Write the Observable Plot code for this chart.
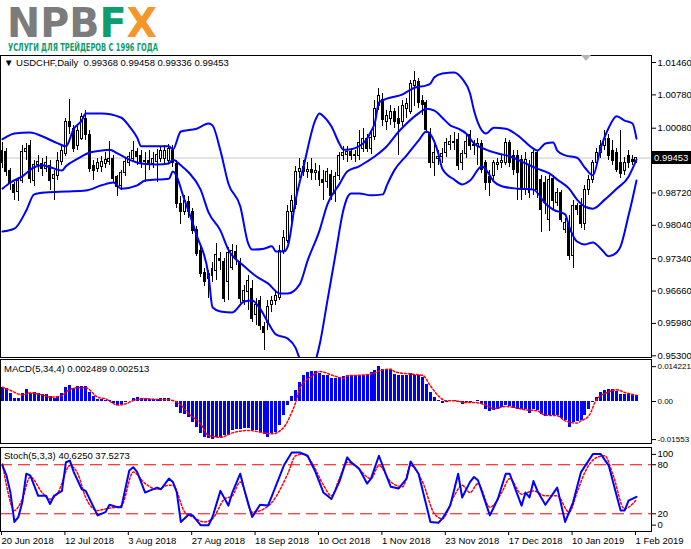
<!DOCTYPE html>
<html><head><meta charset="utf-8">
<script src="https://cdn.jsdelivr.net/npm/d3@7"></script>
<script src="https://cdn.jsdelivr.net/npm/@observablehq/plot@0.6"></script>
<style>
body{margin:0;background:#fff;}
#wrap{position:relative;width:691px;height:549px;overflow:hidden;font-family:"Liberation Sans",Arial,sans-serif;background:#fff;}
#wrap svg.p{position:absolute;left:0;}
.lbl{position:absolute;font-size:9.5px;line-height:11px;color:#000;white-space:pre;font-family:"Liberation Sans",Arial,sans-serif;}
</style></head><body><div id="wrap"></div>
<script>
// ---------- data ----------
const symbolTitle = "▼ USDCHF,Daily  0.99368 0.99458 0.99336 0.99453";
const macdTitle = "MACD(5,34,4) 0.002489 0.002513";
const stochTitle = "Stoch(5,3,3) 40.6250 37.5273";
const lastPrice = 0.99453;

const xTickIdx = [0,16,32,48,64,80,96,112,128,144,160];
const xTickLabels = ["20 Jun 2018","12 Jul 2018","3 Aug 2018","27 Aug 2018","18 Sep 2018","10 Oct 2018","1 Nov 2018","23 Nov 2018","17 Dec 2018","10 Jan 2019","1 Feb 2019"];
const priceTicks = [1.0146,1.0078,1.0008,0.9872,0.9804,0.9734,0.9666,0.9598,0.9530];
const macdTickVals = [0.014221,0,-0.01553];
const macdTickLabels = ["0.014221","0.00","-0.01553"];
const stochLevels = [20,80];

const open = [
.9934,.9957,.9919,.9888,.9873,.9898,.9957,.9970,.9898,.9930,
.9932,.9923,.9928,.9902,.9907,.9936,.9953,1.0020,1.0007,.9970,
.9986,1.0028,.9993,.9928,.9923,.9926,.9932,.9936,.9944,.9905,
.9886,.9913,.9934,.9944,.9959,.9949,.9936,.9940,.9932,.9936,
.9944,.9944,.9940,.9961,.9932,.9848,.9831,.9854,.9831,.9795,
.9751,.9703,.9692,.9697,.9709,.9734,.9726,.9684,.9715,.9747,
.9726,.9646,.9663,.9671,.9615,.9646,.9590,.9598,.9636,.9646,
.9652,.9751,.9772,.9831,.9846,.9915,.9926,.9915,.9921,.9913,
.9915,.9900,.9894,.9909,.9869,.9907,.9949,.9951,.9957,.9949,
.9949,.9965,.9986,.9965,.9990,1.0054,1.0068,1.0022,1.0028,1.0041,
1.0028,1.0020,1.0049,1.0043,1.0096,1.0104,1.0066,1.0060,.9997,.9934,
.9944,.9947,.9955,.9972,.9980,.9984,.9934,.9953,.9993,.9972,
.9970,.9974,.9934,.9905,.9907,.9930,.9934,.9934,.9976,.9949,
.9949,.9942,.9879,.9928,.9879,.9955,.9900,.9892,.9816,.9902,
.9850,.9871,.9795,.9808,.9739,.9844,.9844,.9806,.9879,.9900,
.9934,.9955,.9970,.9986,.9961,.9955,.9934,.9919,.9949,.9942,
.99368];
const high = [
.9978,.9965,.9923,.9894,.9905,.9972,.9976,.9982,.9940,.9951,
.9944,.9949,.9940,.9919,.9957,.9974,1.0028,1.0068,1.0014,1.0012,
1.0039,1.0045,1.0003,.9940,.9944,.9949,.9957,.9980,.9951,.9909,
.9919,.9944,.9957,.9980,.9965,.9961,.9957,.9961,.9957,.9963,
.9970,.9972,.9974,.9972,.9940,.9865,.9867,.9865,.9839,.9802,
.9764,.9713,.9709,.9726,.9766,.9747,.9734,.9758,.9764,.9762,
.9734,.9678,.9699,.9688,.9650,.9655,.9600,.9646,.9655,.9667,
.9762,.9793,.9846,.9867,.9928,.9944,.9940,.9936,.9944,.9934,
.9930,.9919,.9923,.9919,.9915,.9957,.9970,.9970,.9965,.9961,
1.0003,1.0007,.9995,.9999,1.0066,1.0091,1.0081,1.0045,1.0056,1.0049,
1.0054,1.0066,1.0071,1.0108,1.0127,1.0112,1.0077,1.0066,1.0007,.9982,
.9961,.9965,.9986,.9993,.9999,.9997,.9961,.9995,1.0003,.9982,
.9986,.9982,.9940,.9919,.9940,.9944,.9951,.9986,.9982,.9961,
.9961,.9951,.9957,.9940,.9961,.9961,.9909,.9907,.9909,.9909,
.9881,.9877,.9818,.9825,.9856,.9850,.9860,.9888,.9909,.9940,
.9965,.9982,1.0003,.9995,.9982,.9965,1.0003,.9947,.9961,.9951,
.99458];
const low = [
.9923,.9907,.9877,.9856,.9854,.9892,.9940,.9892,.9886,.9915,
.9907,.9915,.9877,.9856,.9898,.9930,.9949,.9995,.9957,.9961,
.9982,.9982,.9915,.9898,.9915,.9915,.9923,.9930,.9894,.9865,
.9877,.9907,.9928,.9936,.9930,.9923,.9894,.9919,.9923,.9894,
.9936,.9930,.9934,.9926,.9839,.9806,.9825,.9818,.9785,.9739,
.9695,.9676,.9650,.9684,.9688,.9709,.9642,.9646,.9709,.9720,
.9640,.9636,.9625,.9600,.9594,.9583,.9541,.9583,.9621,.9636,
.9646,.9743,.9766,.9810,.9837,.9902,.9907,.9902,.9898,.9898,
.9886,.9856,.9881,.9856,.9852,.9898,.9940,.9936,.9940,.9936,
.9940,.9957,.9957,.9953,.9982,1.0045,1.0012,1.0003,1.0014,1.0007,
.9951,1.0012,1.0028,1.0037,1.0054,1.0049,1.0035,.9997,.9923,.9907,
.9930,.9934,.9947,.9961,.9961,.9919,.9919,.9944,.9961,.9951,
.9930,.9913,.9877,.9865,.9898,.9919,.9923,.9930,.9926,.9909,
.9856,.9856,.9867,.9860,.9867,.9860,.9789,.9827,.9791,.9835,
.9844,.9810,.9787,.9730,.9713,.9825,.9797,.9793,.9867,.9892,
.9928,.9944,.9961,.9940,.9930,.9915,.9902,.9909,.9923,.9930,
.99336];
const close = [
.9961,.9915,.9892,.9871,.9898,.9957,.9965,.9902,.9930,.9936,
.9923,.9934,.9898,.9909,.9940,.9961,1.0020,1.0010,.9965,1.0003,
1.0031,.9993,.9923,.9919,.9934,.9936,.9942,.9944,.9902,.9884,
.9913,.9936,.9947,.9961,.9947,.9932,.9940,.9932,.9944,.9951,
.9961,.9961,.9965,.9934,.9848,.9831,.9856,.9831,.9793,.9743,
.9701,.9686,.9701,.9713,.9741,.9730,.9650,.9745,.9751,.9734,
.9650,.9667,.9688,.9608,.9636,.9592,.9577,.9632,.9646,.9655,
.9751,.9778,.9831,.9856,.9915,.9923,.9917,.9921,.9913,.9919,
.9900,.9892,.9915,.9865,.9905,.9949,.9955,.9957,.9949,.9951,
.9976,.9986,.9965,.9988,1.0049,1.0075,1.0026,1.0033,1.0041,1.0022,
1.0016,1.0054,1.0058,1.0100,1.0108,1.0060,1.0056,1.0005,.9934,.9955,
.9947,.9953,.9976,.9980,.9976,.9928,.9953,.9980,.9970,.9970,
.9974,.9921,.9892,.9892,.9934,.9934,.9940,.9976,.9934,.9921,
.9913,.9879,.9942,.9871,.9955,.9879,.9837,.9850,.9900,.9856,
.9871,.9816,.9808,.9739,.9844,.9837,.9806,.9879,.9900,.9934,
.9955,.9970,.9986,.9949,.9940,.9921,.9911,.9934,.9934,.9936,
.99453];

// Bollinger bands, read at sample bars
const upperIdx = [0,1,3,7,10,14,16,18,20,21,25,30,32,34,35,42,43,45,49,52,53,55,57,60,62,63,66,68,69,71,72,74,76,79,80,81,83,85,86,87,91,93,94,95,97,101,103,104,107,108,109,111,114,116,118,119,121,122,124,127,130,134,135,137,139,140,142,145,147,149,151,153,155,157,159,160];
const upperVal = [.9985,.9990,.9997,.9999,.9991,.9976,.9970,1.0007,1.0024,1.0039,1.0039,1.0030,1.0012,.9988,.9970,.9970,.9963,1.0001,1.0007,1.0018,1.0014,.9961,.9892,.9844,.9766,.9753,.9755,.9760,.9749,.9749,.9760,.9858,.9928,1.0026,1.0039,1.0033,1.0012,.9976,.9963,.9963,.9976,1.0001,1.0020,1.0062,1.0070,1.0079,1.0089,1.0093,1.0098,1.0102,1.0115,1.0123,1.0125,1.0112,1.0081,1.0045,1.0003,.9997,1.0009,1.0007,.9993,.9965,.9961,.9976,.9978,.9961,.9951,.9946,.9925,.9909,.9967,1.0009,1.0033,1.0024,1.0018,.9986];
const midIdx = [0,2,5,8,10,12,15,16,19,22,25,27,29,32,35,39,42,43,45,47,50,52,55,57,61,64,67,70,72,75,77,80,82,85,87,90,92,94,97,100,102,105,107,109,111,113,115,117,119,122,125,128,132,135,138,140,143,145,147,149,152,155,158,159,160];
const midVal = [.9881,.9894,.9907,.9926,.9930,.9926,.9919,.9928,.9944,.9957,.9961,.9963,.9955,.9942,.9934,.9932,.9934,.9942,.9930,.9915,.9879,.9831,.9793,.9753,.9718,.9697,.9682,.9661,.9661,.9680,.9730,.9793,.9848,.9890,.9917,.9928,.9938,.9949,.9970,1.0001,1.0018,1.0039,1.0049,1.0045,1.0030,1.0014,1.0007,.9997,.9976,.9963,.9955,.9949,.9934,.9923,.9913,.9900,.9881,.9858,.9843,.9839,.9858,.9881,.9906,.9923,.9942];
const lowerIdx = [0,3,6,8,11,16,21,25,28,30,34,36,42,43,46,49,52,53,55,58,61,63,65,67,69,72,74,75,76,77,78,79,80,82,84,86,87,88,90,93,96,97,99,102,105,107,108,110,111,114,116,118,121,122,124,126,130,134,137,139,142,143,145,147,149,151,153,155,156,158,159,160];
const lowerVal = [.9791,.9797,.9835,.9869,.9873,.9875,.9877,.9888,.9894,.9881,.9888,.9898,.9902,.9917,.9856,.9783,.9699,.9632,.9623,.9621,.9644,.9646,.9629,.9600,.9575,.9566,.9546,.9524,.9508,.9500,.9506,.9520,.9552,.9646,.9741,.9835,.9862,.9871,.9871,.9867,.9869,.9888,.9921,.9951,.9982,1.0001,.9995,.9955,.9923,.9900,.9890,.9898,.9928,.9921,.9896,.9886,.9881,.9879,.9850,.9837,.9827,.9802,.9770,.9764,.9768,.9755,.9739,.9747,.9760,.9825,.9860,.9898];

// MACD histogram (one per bar) and signal line samples
const macdHist = [
.0059,.0052,.0031,.0014,.0014,.0031,.0048,.0031,.0035,.0031,
.0027,.0027,.0020,.0014,.0022,.0031,.0056,.0065,.0052,.0061,
.0061,.0061,.0035,.0022,.0010,.0007,.0004,.0003,-.0010,-.0016,
-.0014,-.0005,.0000,.0014,.0016,.0011,.0011,.0010,.0008,.0008,
.0011,.0014,.0014,.0003,-.0023,-.0050,-.0054,-.0064,-.0084,-.0105,
-.0131,-.0145,-.0150,-.01553,-.0146,-.0146,-.0139,-.0139,-.0118,-.0114,
-.0114,-.0112,-.0112,-.0118,-.0118,-.0125,-.0136,-.0146,-.0131,-.0125,
-.0098,-.0057,-.0016,.0022,.0045,.0079,.0106,.0120,.0122,.0122,
.0113,.0106,.0106,.0095,.0093,.0099,.0103,.0105,.0105,.0108,
.0108,.0108,.0112,.0118,.0125,.014221,.0131,.0129,.0125,.0112,
.0105,.0108,.0105,.0116,.0108,.0108,.0098,.0071,.0037,.0016,
.0005,-.0008,-.0004,.0000,.0003,-.0004,-.0011,-.0004,-.0004,-.0001,
.0003,-.0011,-.0031,-.0042,-.0038,-.0031,-.0024,-.0018,-.0020,-.0029,
-.0031,-.0034,-.0031,-.0048,-.0034,-.0038,-.0052,-.0061,-.0056,-.0059,
-.0059,-.0069,-.0079,-.0106,-.0084,-.0083,-.0079,-.0059,-.0031,-.0004,
.0016,.0037,.0044,.0048,.0050,.0040,.0030,.0027,.0027,.0026,
.002489];
const macdSigIdx = [0,2,5,7,10,12,15,16,19,21,24,26,29,31,33,36,40,42,45,47,50,52,55,58,62,66,68,71,73,74,75,78,80,84,86,87,90,93,96,98,99,103,106,108,110,112,114,117,119,122,124,127,129,132,135,137,140,142,145,146,148,150,153,155,157,160];
const macdSig = [.0058,.0045,.0027,.0035,.0027,.0018,.0024,.0038,.0056,.0056,.0018,.0011,-.0014,-.0010,.0004,.0011,.0008,.0007,-.0014,-.0050,-.0091,-.0139,-.0146,-.0128,-.0118,-.0128,-.0132,-.0105,-.0044,-.0003,.0052,.0103,.0122,.0103,.0095,.0105,.0107,.0112,.0129,.0132,.0121,.0112,.0107,.0064,.0023,.0003,.0003,-.0004,-.0004,-.0015,-.0029,-.0020,-.0024,-.0034,-.0038,-.0056,-.0058,-.0079,-.0088,-.0079,-.0058,.0010,.0039,.0048,.0037,.002513];

// Stochastic main and signal samples
const stochIdx = [0,1,2,3,4,5,6,7,9,11,12,13,15,16,17,18,20,21,24,26,27,29,30,32,33,34,36,37,39,40,42,43,44,45,47,48,50,52,53,55,57,58,60,61,63,65,67,68,71,73,75,77,79,81,83,85,87,88,90,92,93,95,97,98,100,102,103,105,108,110,111,113,115,116,118,119,120,123,125,127,128,131,132,133,134,135,137,140,142,144,146,149,151,153,155,156,157,158,160];
const stochMain = [79,67,46,10,16,34,69,67,42,42,32,42,48,83,85,71,50,48,18,22,31,28,28,73,77,71,46,48,52,50,63,59,46,10,19,18,6,6,16,48,30,46,69,50,16,31,30,42,79,95,95,91,71,46,38,59,89,83,75,57,63,91,65,53,51,63,84,69,10,9,14,30,69,40,59,65,61,18,38,69,69,30,46,40,60,48,31,52,10,34,71,93,93,79,42,24,24,36,40.625];
const stochSigIdx = [0,1,3,5,7,10,12,14,17,19,21,24,26,30,33,36,39,42,43,46,48,51,53,56,58,60,63,66,68,72,74,76,78,81,83,85,87,89,93,95,98,101,103,106,109,111,114,116,118,120,123,126,128,131,134,137,140,143,145,147,150,152,154,157,158,160];
const stochSig = [81,55,24,38,65,46,38,46,79,69,40,24,26,30,71,57,50,55,55,22,16,10,14,38,42,59,22,26,34,69,91,93,83,55,42,63,83,79,63,79,59,53,79,59,20,14,42,55,46,57,28,46,63,44,48,42,42,22,46,71,89,91,69,26,28,37.5273];

// ---------- drawing ----------
const wrap = document.getElementById("wrap");
const W = 691;
const X = {domain: [-0.505, 163.79], axis: null};
const font = {fontFamily: "Liberation Sans, Arial, sans-serif", fontSize: "9.5px", color: "#000", background: "transparent", overflow: "visible"};
const idx = d3.range(close.length);
const blue = "#0000ff", red = "#ff0000";

// logo
wrap.insertAdjacentHTML("beforeend", `
<svg width="320" height="62" style="position:absolute;left:0;top:0;overflow:visible">
 <text x="7" y="37" font-family="DejaVu Sans" font-weight="bold" font-size="40" textLength="150" lengthAdjust="spacingAndGlyphs"><tspan fill="#7c7c7c">NPB</tspan><tspan fill="#0e9d6c">F</tspan><tspan fill="#f5962a">X</tspan></text>
 <text x="8" y="51" font-family="DejaVu Sans" font-weight="bold" font-size="10.5" fill="#0e9d6c" textLength="150" lengthAdjust="spacingAndGlyphs">УСЛУГИ ДЛЯ ТРЕЙДЕРОВ С 1996 ГОДА</text>
</svg>`);

// price panel
const bull = idx.filter(i => close[i] >= open[i]);
const bear = idx.filter(i => close[i] < open[i]);
const price = Plot.plot({
  width: W, height: 304, marginLeft: 0, marginRight: 40, marginTop: 1, marginBottom: 1,
  x: X, y: {domain: [0.95264, 1.01607], axis: null}, style: font,
  marks: [
    Plot.ruleY([lastPrice], {stroke: "#c8c8c8"}),
    Plot.ruleX(idx, {x: d => d, y1: i => low[i], y2: i => high[i], stroke: "#000", shapeRendering: "crispEdges", clip: true}),
    Plot.rect(bear, {x1: i => i - 0.25, x2: i => i + 0.25, y1: i => open[i], y2: i => close[i], fill: "#000", stroke: "#000", shapeRendering: "crispEdges", clip: true}),
    Plot.rect(bull, {x1: i => i - 0.25, x2: i => i + 0.25, y1: i => open[i], y2: i => close[i], fill: "#fff", stroke: "#000", shapeRendering: "crispEdges", clip: true}),
    Plot.line(upperVal, {x: upperIdx, y: upperVal, stroke: blue, strokeWidth: 2, curve: "monotone-x", clip: true}),
    Plot.line(midVal, {x: midIdx, y: midVal, stroke: blue, strokeWidth: 2, curve: "monotone-x", clip: true}),
    Plot.line(lowerVal, {x: lowerIdx, y: lowerVal, stroke: blue, strokeWidth: 2, curve: "monotone-x", clip: true}),
    Plot.frame({stroke: "#000"}),
    Plot.axisY(priceTicks, {anchor: "right", tickSize: 4, tickPadding: 2, tickFormat: d3.format(".5f"), fill: "#000"})
  ]
});
price.classList.add("p"); price.style.top = "54px";
wrap.appendChild(price);

// MACD panel
const macd = Plot.plot({
  width: W, height: 86, marginLeft: 0, marginRight: 40, marginTop: 1, marginBottom: 1,
  x: X, y: {domain: [-0.017136, 0.017136], axis: null}, style: font,
  marks: [
    Plot.ruleX(idx, {x: d => d, y1: 0, y2: i => macdHist[i], stroke: blue, strokeWidth: 3, shapeRendering: "crispEdges", clip: true}),
    Plot.line(macdSig, {x: macdSigIdx, y: macdSig, stroke: red, strokeDasharray: "2,2", curve: "monotone-x", clip: true}),
    Plot.frame({stroke: "#000"}),
    Plot.axisY(macdTickVals, {anchor: "right", tickSize: 4, tickPadding: 2, fontSize: 8, tickFormat: d => macdTickLabels[macdTickVals.indexOf(d)], fill: "#000"})
  ]
});
macd.classList.add("p"); macd.style.top = "358px";
wrap.appendChild(macd);

// Stochastic panel
const stoch = Plot.plot({
  width: W, height: 103, marginLeft: 0, marginRight: 40, marginTop: 1, marginBottom: 18,
  x: X, y: {domain: [-1.7, 101.1], axis: null}, style: font,
  marks: [
    Plot.ruleY(stochLevels, {stroke: red, strokeDasharray: "12,6"}),
    Plot.line(stochSig, {x: stochSigIdx, y: stochSig, stroke: red, strokeDasharray: "2,2", curve: "monotone-x", clip: true}),
    Plot.line(stochMain, {x: stochIdx, y: stochMain, stroke: blue, strokeWidth: 2, clip: true}),
    Plot.frame({stroke: "#000"}),
    Plot.axisY(stochLevels, {anchor: "right", tickSize: 4, tickPadding: 2, fill: "#000"}),
    Plot.axisY([100], {anchor: "right", tickSize: 4, tickPadding: 2, dy: 6, fill: "#000"}),
    Plot.axisY([0], {anchor: "right", tickSize: 4, tickPadding: 2, dy: -5, fill: "#000"}),
    Plot.axisX(xTickIdx, {anchor: "bottom", tickSize: 4, tickPadding: 2, textAnchor: "start", dx: -1, tickFormat: d => xTickLabels[xTickIdx.indexOf(d)], fill: "#000"})
  ]
});
stoch.classList.add("p"); stoch.style.top = "446px";
wrap.appendChild(stoch);

// current-price box on the right scale
const yLast = 54 + price.scale("y").apply(lastPrice);
const box = document.createElement("div");
box.className = "lbl";
box.textContent = lastPrice.toFixed(5);
Object.assign(box.style, {left: "652px", top: (yLast - 6.5) + "px", width: "39px", height: "13px", lineHeight: "13px", background: "#000", color: "#fff", paddingLeft: "2px", boxSizing: "border-box"});
wrap.appendChild(box);

// panel captions
function label(text, left, top) {
  const d = document.createElement("div");
  d.className = "lbl"; d.textContent = text;
  d.style.left = left + "px"; d.style.top = top + "px";
  wrap.appendChild(d);
}
label(symbolTitle, 4, 57);
label(macdTitle, 4, 363);
label(stochTitle, 4, 450);

// MT4 shift marker
const tri = document.createElement("div");
Object.assign(tri.style, {position: "absolute", left: "581px", top: "55px", width: "0", height: "0", borderLeft: "5px solid transparent", borderRight: "5px solid transparent", borderTop: "6px solid #b4b4b4"});
wrap.appendChild(tri);
</script></body></html>
